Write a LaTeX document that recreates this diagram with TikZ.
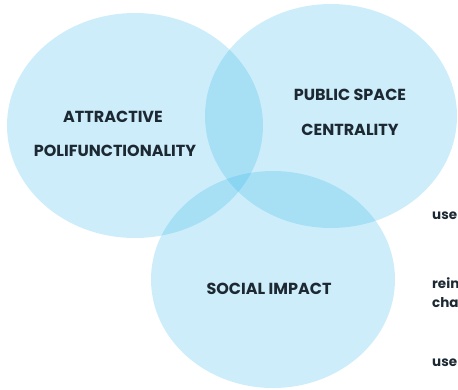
\documentclass[tikz,border=0pt]{standalone}
\usepackage{fontspec}
\setmainfont{Poppins}
\definecolor{venn}{RGB}{30,175,230}
\definecolor{ink}{RGB}{28,40,50}
\begin{document}
\begin{tikzpicture}[x=1pt,y=-1pt,
  set/.style={fill=venn,fill opacity=0.22,draw=none},
  title/.style={text=ink,font=\fontsize{16}{16}\selectfont\bfseries,inner sep=0pt,anchor=center},
  side/.style={text=ink,font=\fontsize{13.5}{13.5}\selectfont\bfseries,inner sep=0pt,anchor=west}]
\useasboundingbox (0,0) rectangle (458,389);
\clip (0,0) rectangle (458,389);
% the three sets
\fill[set] (135,125.5) ellipse [x radius=128,y radius=112.5];
\fill[set] (331,116) ellipse [x radius=126,y radius=112];
\fill[set] (273,279.5) ellipse [x radius=122,y radius=108.5];
% set labels
\node[title] (a1) at (113,117) {ATTRACTIVE};
\node[title] (a2) at (115,151) {POLIFUNCTIONALITY};
\node[title] (b1) at (350,95) {PUBLIC SPACE};
\node[title] (b2) at (350,130) {CENTRALITY};
\node[title] (c1) at (269,289) {SOCIAL IMPACT};
% notes running off the right edge
\node[side] (n1) at (432,216) {use};
\node[side] (n2) at (432,283) {rein};
\node[side] (n3) at (432,303) {cha};
\node[side] (n4) at (432,363) {use};
\end{tikzpicture}
\end{document}
